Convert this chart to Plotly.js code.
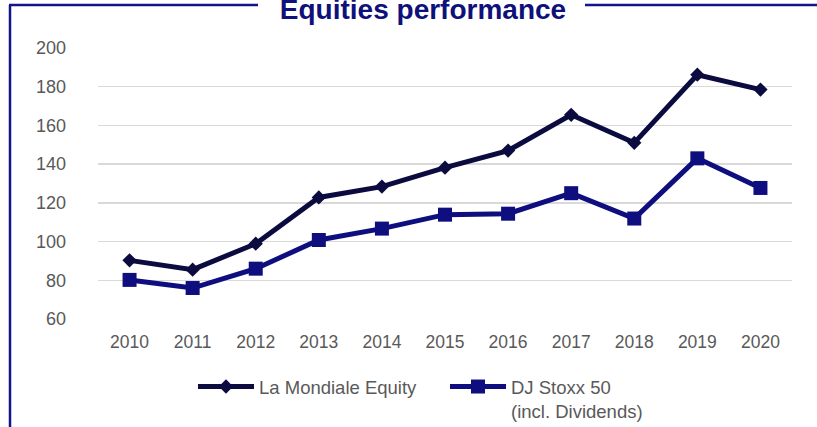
<!DOCTYPE html>
<html>
<head>
<meta charset="utf-8">
<script src="https://cdn.plot.ly/plotly-3.0.1.min.js"></script>
<style>
  html, body { margin: 0; padding: 0; background: #ffffff; }
  #chart { width: 817px; height: 427px; }
</style>
</head>
<body>
<div id="chart"></div>
<script>
const years = ["2010","2011","2012","2013","2014","2015","2016","2017","2018","2019","2020"];
const laMondialeEquity = [90.3, 85.5, 98.9, 122.8, 128.4, 138.2, 147.0, 165.5, 151.0, 186.2, 178.5];
const djStoxx50 = [80.2, 76.0, 86.0, 100.8, 106.7, 113.9, 114.4, 125.0, 111.9, 143.0, 127.7];
const yTicks = [60, 80, 100, 120, 140, 160, 180, 200];

const W = 817, H = 427;
const M = {l: 98, r: 25, t: 48, b: 108, autoexpand: false};
const pw = W - M.l - M.r, ph = H - M.t - M.b;
const px = x => (x - M.l) / pw;
const py = y => (H - M.b - y) / ph;

const frameColor = "#14148a";
const font = "Liberation Sans, Arial, sans-serif";

const traces = [
  {
    x: years, y: laMondialeEquity, name: "La Mondiale Equity",
    type: "scatter", mode: "lines+markers",
    line: {color: "#0b0b40", width: 5},
    marker: {symbol: "diamond", size: 11, color: "#0b0b40"}
  },
  {
    x: years, y: djStoxx50, name: "DJ Stoxx 50<br>(incl. Dividends)",
    type: "scatter", mode: "lines+markers",
    line: {color: "#0e0e7e", width: 5},
    marker: {symbol: "square", size: 14, color: "#0e0e7e"}
  }
];

const layout = {
  width: W, height: H,
  margin: M,
  paper_bgcolor: "#ffffff", plot_bgcolor: "#ffffff",
  font: {family: font, color: "#595959", size: 17},
  title: {
    text: "<b>Equities performance</b>",
    font: {family: font, size: 28, color: "#10107a"},
    x: 423 / W, xref: "container", xanchor: "center",
    y: 1 - 9 / H, yref: "container", yanchor: "middle"
  },
  xaxis: {
    type: "category", range: [-0.5, 10.5],
    showgrid: false, zeroline: false, showline: false,
    ticks: "", ticklabelstandoff: 10,
    tickfont: {family: font, size: 17.5, color: "#595959"}
  },
  yaxis: {
    range: [60, 200], tickvals: yTicks,
    showgrid: true, gridcolor: "#d9d9d9", gridwidth: 1.5,
    zeroline: false, showline: false,
    ticks: "", ticklabelstandoff: 31,
    tickfont: {family: font, size: 18, color: "#595959"}
  },
  showlegend: true,
  legend: {
    orientation: "h", x: px(445), xanchor: "center", y: py(368), yanchor: "top",
    valign: "top", itemwidth: 56, entrywidth: 181, entrywidthmode: "pixels",
    font: {family: font, size: 18.5, color: "#595959"},
    bgcolor: "rgba(0,0,0,0)"
  },
  shapes: [
    {type: "line", xref: "paper", yref: "paper", x0: px(10), x1: px(10), y0: py(5), y1: py(430), line: {color: frameColor, width: 2.5}},
    {type: "line", xref: "paper", yref: "paper", x0: px(9), x1: px(258), y0: py(5), y1: py(5), line: {color: frameColor, width: 2.5}},
    {type: "line", xref: "paper", yref: "paper", x0: px(585), x1: px(820), y0: py(5), y1: py(5), line: {color: frameColor, width: 2.5}}
  ]
};

Plotly.newPlot("chart", traces, layout, {displayModeBar: false, staticPlot: true});
</script>
</body>
</html>
